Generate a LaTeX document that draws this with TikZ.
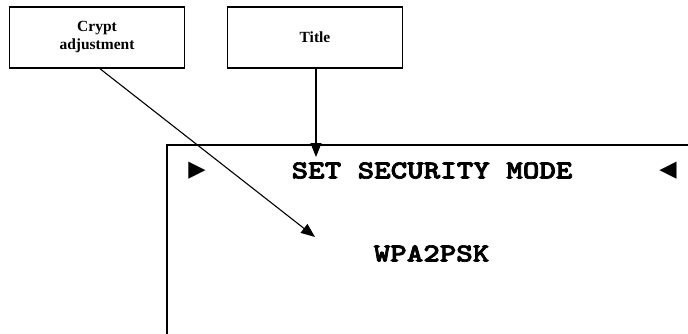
\documentclass[tikz,border=0pt]{standalone}
\usepackage{fontspec}
\usepackage{graphicx}
\setmainfont{Liberation Serif}
\newfontfamily\symfnt{DejaVu Sans}
\newfontfamily\dispfnt[FakeBold=2.5]{lmmonolt10-bold.otf}
\usetikzlibrary{arrows.meta}
\newcommand{\disp}[1]{\scalebox{1.21}[1]{\dispfnt\fontsize{26}{28}\selectfont #1}}
\begin{document}
\begin{tikzpicture}[x=1pt,y=-1pt,
  labelbox/.style={draw,line width=1.5pt,minimum width=175pt,minimum height=61pt,inner sep=0pt,
    align=center,font=\fontsize{15.5}{18}\selectfont\bfseries},
  disptext/.style={inner sep=0pt},
  symtext/.style={font=\symfnt\fontsize{22.5}{24}\selectfont,inner sep=0pt},
  arr/.style={line width=1.1pt,-{Triangle[length=14pt,width=11pt]}}]
\useasboundingbox (0,0) rectangle (688,333);
% display frame (open on right and bottom)
\draw[line width=1.5pt] (690,145) -- (167,145) -- (167,335);
\node[labelbox] (crypt) at (97,37.5) {Crypt\\adjustment};
\node[labelbox] (title) at (315,37.5) {Title};
\node[disptext] (head) at (432,170.5) {\disp{SET SECURITY MODE}};
\node[disptext] (mode) at (431.5,253.5) {\disp{WPA2PSK}};
\node[symtext] (larr) at (197,170.5) {▶};
\node[symtext] (rarr) at (668,170.5) {◀};
\coordinate (titletip) at (316,157);
\coordinate (crypttip) at (315,237);
\draw[arr] (title.south -| titletip) -- (titletip);
\draw[arr] ([xshift=3pt]crypt.south) -- (crypttip);
\end{tikzpicture}
\end{document}
